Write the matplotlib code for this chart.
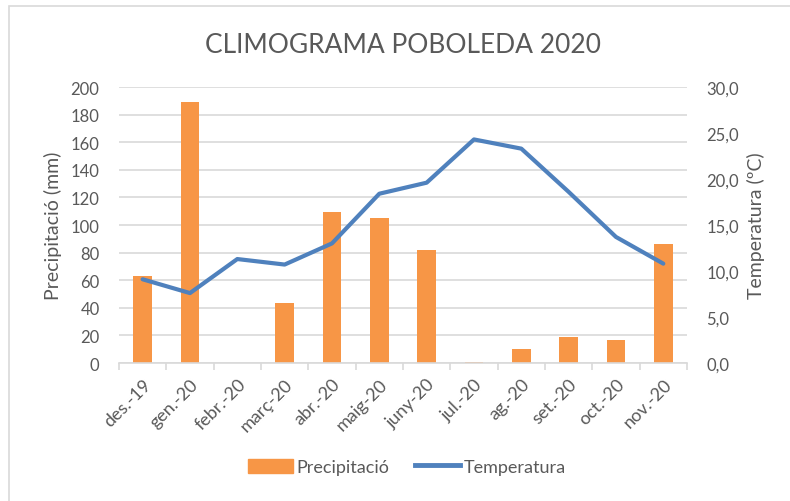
import matplotlib.pyplot as plt
from matplotlib.patches import Rectangle
from matplotlib.lines import Line2D
from matplotlib.patches import Patch

mesos = ['des.-19', 'gen.-20', 'febr.-20', 'març-20', 'abr.-20', 'maig-20',
         'juny-20', 'jul.-20', 'ag.-20', 'set.-20', 'oct.-20', 'nov.-20']
precipitacio = [63, 189, 0, 43.5, 109.5, 104.8, 81.8, 0.8, 9.8, 19.2, 16.8, 86.3]
temperatura = [9.1, 7.6, 11.3, 10.7, 13.0, 18.4, 19.6, 24.3, 23.3, 18.6, 13.7, 10.8]

taronja = '#F79646'
blau = '#4F81BD'
gris = '#595959'

plt.rcParams['font.family'] = ['Lato', 'DejaVu Sans']

fig = plt.figure(figsize=(7.9, 5.02), dpi=100)
# marc del gràfic (com a l'Excel)
fig.patches.append(Rectangle((9 / 790, -0.1), 1.1, 1 - 7 / 502 + 0.1,
                             transform=fig.transFigure, fill=False,
                             edgecolor='#D9D9D9', linewidth=1.2))

ax = fig.add_axes([0.1506, 0.2749, 0.719, 0.5498])
x = list(range(len(mesos)))
ax.bar(x, precipitacio, width=0.4, color=taronja, zorder=2)
ax.set_xlim(-0.5, len(mesos) - 0.5)
ax.set_ylim(0, 200)
ax.set_yticks(range(0, 201, 20))
ax.grid(axis='y', color='#D9D9D9', linewidth=1.2, zorder=0)
for s in ['top', 'right', 'left']:
    ax.spines[s].set_visible(False)
ax.spines['bottom'].set_color('#D9D9D9')
ax.spines['bottom'].set_linewidth(1.2)
ax.tick_params(axis='y', length=0, labelsize=12, labelcolor=gris, pad=14)
ax.set_xticks(x)
ax.set_xticklabels(mesos, rotation=45, ha='right', rotation_mode='anchor',
                   fontsize=13, color=gris)
ax.tick_params(axis='x', length=0, pad=9)
ax.set_xticks([i + 0.5 for i in range(-1, len(mesos))], minor=True)
ax.tick_params(axis='x', which='minor', length=5, color='#D9D9D9', width=1.2)
ax.set_ylabel('Precipitació (mm)', fontsize=14, color=gris, labelpad=6)

ax2 = ax.twinx()
ax2.plot(x, temperatura, color=blau, linewidth=3, solid_capstyle='round', zorder=3)
ax2.set_ylim(0, 30)
ax2.set_yticks(range(0, 31, 5))
ax2.set_yticklabels([f'{v},0' for v in range(0, 31, 5)])
for s in ax2.spines.values():
    s.set_visible(False)
ax2.tick_params(axis='y', length=0, labelsize=12, labelcolor=gris, pad=14)
ax2.set_ylabel('Temperatura (ºC)', fontsize=14, color=gris, labelpad=6)

fig.text(0.51, 0.91, 'CLIMOGRAMA POBOLEDA 2020', ha='center', va='center',
         fontsize=19, color=gris)

handles = [Patch(color=taronja, label='Precipitació'),
           Line2D([], [], color=blau, linewidth=3.5, label='Temperatura')]
fig.legend(handles=handles, loc='center', bbox_to_anchor=(0.515, 0.068), ncol=2,
           frameon=False, fontsize=13, labelcolor=gris, handlelength=2.5,
           handleheight=0.9, handletextpad=0.2, columnspacing=1.4)

fig.savefig('out.png', dpi=100)
